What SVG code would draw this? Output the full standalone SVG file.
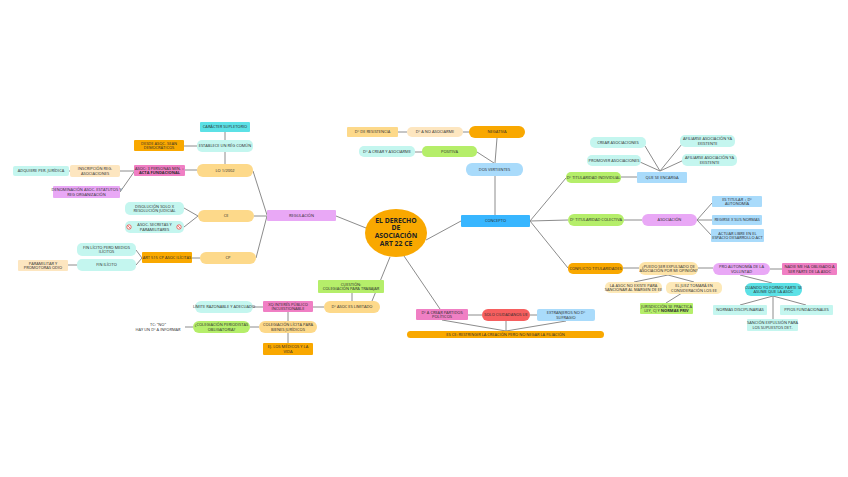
<svg xmlns="http://www.w3.org/2000/svg" width="848" height="477" viewBox="0 0 848 477">
<style>
text{font-family:"Open Sans","Liberation Sans",sans-serif;font-size:4px;fill:#2a2a2a;text-anchor:middle}
.b{font-weight:bold}
.c{font-family:"Open Sans","Liberation Sans",sans-serif;font-size:6.8px;font-weight:bold;fill:#222}
.ln{stroke:#8c8c8c;stroke-width:1;fill:none}
.or{fill:#f9a800}.lo{fill:#fdd98a}.pe{fill:#fde6c0}.py{fill:#fde3a7}
.lc{fill:#c4f6ef}.te{fill:#5ce1e6}.gr{fill:#b5ee6a}.pk{fill:#f07fc4}
.vi{fill:#e9a8f6}.bl{fill:#38b6ff}.lb{fill:#a9dbfb}.rd{fill:#f65f5f}
</style>
<defs>
<g id="ban"><circle r="2.2" fill="#fff" stroke="#e53935" stroke-width="0.7"/><line x1="-1.5" y1="-1.5" x2="1.5" y2="1.5" stroke="#e53935" stroke-width="0.7"/></g>
</defs>
<rect width="848" height="477" fill="#fff"/>
<g id="connectors">
<line class="ln" x1="426" y1="240" x2="461" y2="221"/>
<line class="ln" x1="366" y1="228" x2="336" y2="216"/>
<line class="ln" x1="404" y1="256" x2="440" y2="309"/>
<line class="ln" x1="390" y1="257" x2="372" y2="301"/>
<line class="ln" x1="495" y1="176" x2="495" y2="215"/>
<line class="ln" x1="530" y1="221" x2="566" y2="178"/>
<line class="ln" x1="530" y1="221" x2="568" y2="220"/>
<line class="ln" x1="530" y1="221" x2="568" y2="268"/>
<line class="ln" x1="621" y1="177" x2="637" y2="177"/>
<line class="ln" x1="660" y1="171" x2="645" y2="146"/>
<line class="ln" x1="660" y1="171" x2="640" y2="162"/>
<line class="ln" x1="660" y1="171" x2="682" y2="144"/>
<line class="ln" x1="660" y1="171" x2="684" y2="160"/>
<line class="ln" x1="624" y1="220" x2="642" y2="220"/>
<line class="ln" x1="697" y1="220" x2="712" y2="203"/>
<line class="ln" x1="697" y1="220" x2="712" y2="220"/>
<line class="ln" x1="697" y1="220" x2="712" y2="236"/>
<line class="ln" x1="623" y1="268" x2="639" y2="268"/>
<line class="ln" x1="668" y1="275" x2="634" y2="282"/>
<line class="ln" x1="668" y1="275" x2="694" y2="282"/>
<line class="ln" x1="682" y1="293" x2="666" y2="303"/>
<line class="ln" x1="698" y1="268" x2="713" y2="268"/>
<line class="ln" x1="770" y1="269" x2="782" y2="269"/>
<line class="ln" x1="740" y1="275" x2="772" y2="283"/>
<line class="ln" x1="773" y1="296" x2="740" y2="305"/>
<line class="ln" x1="773" y1="296" x2="806" y2="305"/>
<line class="ln" x1="773" y1="296" x2="773" y2="319"/>
<line class="ln" x1="267" y1="215" x2="253" y2="171"/>
<line class="ln" x1="254" y1="216" x2="267" y2="216"/>
<line class="ln" x1="256" y1="258" x2="267" y2="216"/>
<line class="ln" x1="225" y1="152" x2="225" y2="164"/>
<line class="ln" x1="225" y1="132" x2="225" y2="140"/>
<line class="ln" x1="184" y1="146" x2="197" y2="146"/>
<line class="ln" x1="185" y1="170" x2="197" y2="170"/>
<line class="ln" x1="120" y1="171" x2="134" y2="171"/>
<line class="ln" x1="120" y1="192" x2="134" y2="172"/>
<line class="ln" x1="69" y1="171" x2="70" y2="171"/>
<line class="ln" x1="198" y1="216" x2="184" y2="208"/>
<line class="ln" x1="198" y1="216" x2="184" y2="227"/>
<line class="ln" x1="192" y1="258" x2="200" y2="258"/>
<line class="ln" x1="142" y1="258" x2="136" y2="250"/>
<line class="ln" x1="142" y1="258" x2="136" y2="265"/>
<line class="ln" x1="68" y1="265" x2="77" y2="265"/>
<line class="ln" x1="352" y1="293" x2="352" y2="301"/>
<line class="ln" x1="313" y1="307" x2="324" y2="307"/>
<line class="ln" x1="253" y1="307" x2="263" y2="307"/>
<line class="ln" x1="288" y1="312" x2="288" y2="321"/>
<line class="ln" x1="250" y1="327" x2="259" y2="327"/>
<line class="ln" x1="185" y1="327" x2="193" y2="327"/>
<line class="ln" x1="288" y1="333" x2="288" y2="343"/>
<line class="ln" x1="495" y1="163" x2="497" y2="138"/>
<line class="ln" x1="477" y1="152" x2="494" y2="163"/>
<line class="ln" x1="463" y1="132" x2="469" y2="132"/>
<line class="ln" x1="398" y1="132" x2="407" y2="132"/>
<line class="ln" x1="415" y1="152" x2="422" y2="152"/>
<line class="ln" x1="468" y1="315" x2="482" y2="315"/>
<line class="ln" x1="530" y1="315" x2="537" y2="315"/>
<line class="ln" x1="442" y1="320" x2="506" y2="331"/>
<line class="ln" x1="506" y1="321" x2="506" y2="331"/>
<line class="ln" x1="566" y1="321" x2="506" y2="331"/>
</g>
<g id="central"><ellipse cx="396" cy="233" rx="31" ry="24" class="or"/>
<text class="c" x="396" y="222.5">EL DERECHO</text><text class="c" x="396" y="230.2">DE</text><text class="c" x="396" y="237.9">ASOCIACIÓN</text><text class="c" x="396" y="245.6">ART 22 CE</text></g>
<g id="caracter"><rect x="200" y="122" width="50" height="10" rx="1" class="te"/><text x="225" y="128.4">CARÁCTER SUPLETORIO</text></g>
<g id="establece"><rect x="197" y="140" width="56" height="12" rx="5" class="lc"/><text x="225" y="147.4">ESTABLECE UN RÉG COMÚN</text></g>
<g id="desde"><rect x="134" y="140" width="50" height="11" rx="1" class="or"/><text x="159" y="144.8">DESDE ASOC. SEAN</text><text x="159" y="149.3">DEMOCRÁTICOS</text></g>
<g id="asoc3"><rect x="134" y="165" width="51" height="11" rx="1" class="pk"/><text x="159.5" y="169.8">ASOC: 3 PERSONAS MIN. +</text><text class="b" x="159.5" y="174.3">ACTA FUNDACIONAL</text></g>
<g id="inscripcion"><rect x="70" y="165" width="50" height="12" rx="2" class="pe"/><text x="95" y="170.2">INSCRIPCIÓN REG.</text><text x="95" y="174.7">ASOCIACIONES</text></g>
<g id="adquiere"><rect x="13" y="166" width="56" height="10" rx="2" class="lc"/><text x="41" y="172.4">ADQUIERE PER. JURÍDICA</text></g>
<g id="denominacion"><rect x="53" y="186" width="67" height="12" rx="1" class="vi"/><text x="86.5" y="191.2">DENOMINACIÓN ASOC. ESTATUTOS Y</text><text x="86.5" y="195.7">REG ORGANIZACIÓN</text></g>
<g id="lo"><rect x="197" y="164" width="56" height="13" rx="6" class="lo"/><text x="225" y="171.9">LO 1/2002</text></g>
<g id="ce"><rect x="198" y="210" width="56" height="12" rx="6" class="lo"/><text x="226" y="217.4">CE</text></g>
<g id="cp"><rect x="200" y="252" width="56" height="12" rx="6" class="lo"/><text x="228" y="259.4">CP</text></g>
<g id="disolucion"><rect x="125" y="202" width="59" height="13" rx="5" class="lc"/><text x="154.5" y="207.7">DISOLUCIÓN SOLO X</text><text x="154.5" y="212.2">RESOLUCIÓN JUDICIAL</text></g>
<g id="secretas"><rect x="125" y="221" width="59" height="12" rx="5" class="lc"/><text x="154.5" y="226.2">ASOC. SECRETAS Y</text><text x="154.5" y="230.7">PARAMILITARES</text><use href="#ban" x="129" y="227"/><use href="#ban" x="179" y="227"/></g>
<g id="finlicito"><rect x="77" y="243" width="59" height="13" rx="5" class="lc"/><text x="106.5" y="248.7">FIN LÍCITO PERO MEDIOS</text><text x="106.5" y="253.2">ILÍCITOS</text></g>
<g id="finilicito"><rect x="77" y="259" width="59" height="12" rx="5" class="lc"/><text x="106.5" y="266.4">FIN ILÍCITO</text></g>
<g id="paramilitar"><rect x="18" y="260" width="50" height="11" rx="1" class="pe"/><text x="43" y="264.8">PARAMILITAR Y</text><text x="43" y="269.3">PROMOTORAS ODIO</text></g>
<g id="art515"><rect x="142" y="252" width="50" height="11" rx="1" class="or"/><text x="167" y="258.9">ART 515 CP ASOC ILÍCITAS</text></g>
<g id="regulacion"><rect x="267" y="210" width="69" height="11" rx="1" class="vi"/><text x="301.5" y="216.9">REGULACIÓN</text></g>
<g id="concepto"><rect x="461" y="215" width="69" height="12" rx="1" class="bl"/><text x="495.5" y="222.4">CONCEPTO</text></g>
<g id="dosvertientes"><rect x="466" y="163" width="57" height="13" rx="6" class="lb"/><text x="494.5" y="170.9">DOS VERTIENTES</text></g>
<g id="negativa"><rect x="469" y="126" width="56" height="12" rx="6" class="or"/><text x="497" y="133.4">NEGATIVA</text></g>
<g id="noasociarme"><rect x="407" y="127" width="56" height="10" rx="5" class="pe"/><text x="435" y="133.4">Dº A NO ASOCIARME</text></g>
<g id="resistencia"><rect x="347" y="127" width="51" height="10" rx="1" class="lo"/><text x="372.5" y="133.4">Dº DE RESISTENCIA</text></g>
<g id="positiva"><rect x="422" y="146" width="55" height="11" rx="5" class="gr"/><text x="449.5" y="152.9">POSITIVA</text></g>
<g id="crearyasociarme"><rect x="359" y="146" width="56" height="11" rx="5" class="lc"/><text x="387" y="152.9">Dº A CREAR Y ASOCIARME</text></g>
<g id="individual"><rect x="566" y="172" width="55" height="11" rx="5" class="gr"/><text x="593.5" y="178.9">Dº TITULARIDAD INDIVIDUAL</text></g>
<g id="encarga"><rect x="637" y="172" width="50" height="11" rx="1" class="lb"/><text x="662" y="178.9">QUE SE ENCARGA</text></g>
<g id="crear"><rect x="590" y="137" width="56" height="11" rx="5" class="lc"/><text x="618" y="143.9">CREAR ASOCIACIONES</text></g>
<g id="promover"><rect x="587" y="155" width="54" height="11" rx="5" class="lc"/><text x="614" y="161.9">PROMOVER ASOCIACIONES</text></g>
<g id="afiliarse1"><rect x="680" y="135" width="55" height="12" rx="5" class="lc"/><text x="707.5" y="140.2">AFILIARSE ASOCIACIÓN YA</text><text x="707.5" y="144.7">EXISTENTE</text></g>
<g id="afiliarse2"><rect x="682" y="154" width="55" height="12" rx="5" class="lc"/><text x="709.5" y="159.2">AFILIARSE ASOCIACIÓN YA</text><text x="709.5" y="163.7">EXISTENTE</text></g>
<g id="colectiva"><rect x="568" y="214" width="56" height="12" rx="6" class="gr"/><text x="596" y="221.4">Dº TITULARIDAD COLECTIVA</text></g>
<g id="asociacion"><rect x="642" y="214" width="55" height="12" rx="6" class="vi"/><text x="669.5" y="221.4">ASOCIACIÓN</text></g>
<g id="titular"><rect x="712" y="196" width="50" height="11" rx="1" class="lb"/><text x="737" y="200.8">ES TITULAR + Dº</text><text x="737" y="205.3">AUTONOMÍA</text></g>
<g id="regirse"><rect x="712" y="215" width="50" height="10" rx="1" class="lb"/><text x="737" y="221.4">REGIRSE X SUS NORMAS</text></g>
<g id="actuar"><rect x="711" y="229" width="53" height="13" rx="1" class="lb"/><text x="737.5" y="234.7">ACTUAR LIBRE EN EL</text><text x="737.5" y="239.2">ESPACIO DESARROLLO ACT</text></g>
<g id="conflicto"><rect x="568" y="263" width="55" height="11" rx="5" class="or"/><text x="595.5" y="269.9">CONFLICTO TITULARIDADES</text></g>
<g id="puedo"><rect x="639" y="262" width="59" height="13" rx="6" class="py"/><text x="668.5" y="267.7">¿PUEDO SER EXPULSADO DE</text><text x="668.5" y="272.2">ASOCIACIÓN POR MI OPINIÓN?</text></g>
<g id="laasoc"><rect x="605" y="282" width="57" height="11" rx="5" fill="#fde9b8"/><text x="633.5" y="286.8">LA ASOC NO EXISTE PARA</text><text x="633.5" y="291.3">SANCIONAR AL MARGEN DE EE</text></g>
<g id="juez"><rect x="666" y="282" width="56" height="12" rx="5" fill="#fde9b8"/><text x="694" y="287.2">EL JUEZ TOMARÁ EN</text><text x="694" y="291.7">CONSIDERACIÓN LOS EE</text></g>
<g id="jurisdiccion"><rect x="640" y="303" width="53" height="11" rx="1" class="gr"/><text x="666.5" y="307.8">JURISDICCIÓN SE PRACTICA</text><text x="666.5" y="312.3">LEY, CJ Y <tspan class="b">NORMAS PRIV</tspan></text></g>
<g id="proautonomia"><rect x="713" y="263" width="57" height="12" rx="6" class="vi"/><text x="741.5" y="268.2">PRO AUTONOMÍA DE LA</text><text x="741.5" y="272.7">VOLUNTAD</text></g>
<g id="nadie"><rect x="782" y="263" width="55" height="12" rx="1" class="pk"/><text x="809.5" y="268.2">NADIE ME HA OBLIGADO A</text><text x="809.5" y="272.7">SER PARTE DE LA ASOC</text></g>
<g id="cuando"><rect x="745" y="283" width="57" height="13" rx="6" class="te"/><text x="773.5" y="288.7">CUANDO YO FORMO PARTE SE</text><text x="773.5" y="293.2">ASUME QUE LA ASOC</text></g>
<g id="normas"><rect x="713" y="305" width="54" height="10" rx="1" class="lc"/><text x="740" y="311.4">NORMAS DISCIPLINARIAS</text></g>
<g id="ppios"><rect x="780" y="305" width="53" height="10" rx="1" class="lc"/><text x="806.5" y="311.4">PPIOS FUNDACIONALES</text></g>
<g id="sancion"><rect x="747" y="319" width="51" height="12" rx="1" class="lc"/><text x="772.5" y="324.2">SANCIÓN EXPULSIÓN PARA</text><text x="772.5" y="328.7">LOS SUPUESTOS DET.</text></g>
<g id="partidos"><rect x="416" y="309" width="52" height="11" rx="1" class="pk"/><text x="442" y="313.8">Dº A CREAR PARTIDOS</text><text x="442" y="318.3">POLÍTICOS</text></g>
<g id="solo"><rect x="482" y="309" width="48" height="12" rx="6" class="rd"/><text x="506" y="316.4">SOLO CIUDADANOS UE</text></g>
<g id="extranjeros"><rect x="537" y="309" width="58" height="12" rx="2" class="lb"/><text x="566" y="314.2">EXTRANJEROS NO Dº</text><text x="566" y="318.7">SUFRAGIO</text></g>
<g id="restringir"><rect x="407" y="331" width="197" height="7" rx="3.5" class="or"/><text x="505.5" y="335.9">ES CE: RESTRINGIR LA CREACIÓN PERO NO NEGAR LA FILIACIÓN</text></g>
<g id="cuestion"><rect x="318" y="280" width="66" height="13" rx="1" class="gr"/><text x="351" y="285.7">CUESTIÓN:</text><text x="351" y="290.2">COLEGIACIÓN PARA TRABAJAR</text></g>
<g id="limitado"><rect x="324" y="301" width="56" height="12" rx="6" class="lo"/><text x="352" y="308.4">Dº ASOC ES LIMITADO</text></g>
<g id="xq"><rect x="263" y="301" width="50" height="11" rx="1" class="pk"/><text x="288" y="305.8">XQ INTERÉS PÚBLICO</text><text x="288" y="310.3">INCUESTIONABLE</text></g>
<g id="razonable"><rect x="195" y="301" width="58" height="12" rx="6" class="lc"/><text x="224" y="308.4">LÍMITE RAZONABLE Y ADECUADO</text></g>
<g id="colegiacionlicita"><rect x="259" y="321" width="58" height="12" rx="6" class="lo"/><text x="288" y="326.2">COLEGIACIÓN LÍCITA PARA</text><text x="288" y="330.7">BIENES JURÍDICOS</text></g>
<g id="periodistas"><rect x="193" y="321" width="57" height="12" rx="6" class="gr"/><text x="221.5" y="326.2">¿COLEGIACIÓN PERIODISTAS</text><text x="221.5" y="330.7">OBLIGATORIA?</text></g>
<g id="medicos"><rect x="263" y="343" width="50" height="12" rx="1" class="or"/><text x="288" y="348.2">EJ. LOS MÉDICOS Y LA</text><text x="288" y="352.7">VIDA</text></g>
<g id="tc"><text x="158" y="326">TC: "NO"</text><text x="158" y="330.5">HAY UN Dº A INFORMAR</text></g>
</svg>
